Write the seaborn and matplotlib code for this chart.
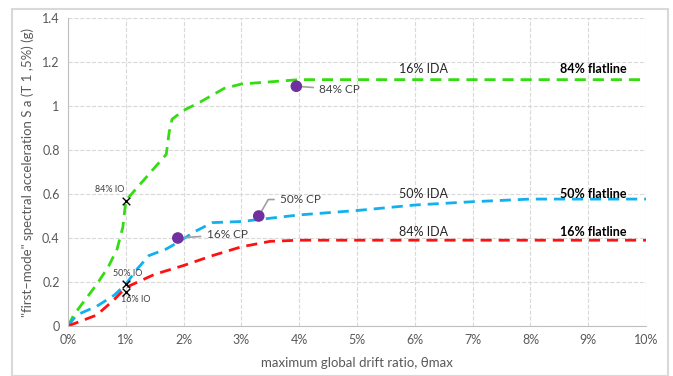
import pandas as pd
import seaborn as sns
import matplotlib.pyplot as plt
from matplotlib.ticker import FuncFormatter, MultipleLocator

# IDA curves (drift in %, Sa in g)
green_x = [0, 0.1, 0.3, 0.5, 0.7, 0.85, 0.95, 1.0, 1.2, 1.5, 1.7, 1.75, 1.8, 2.0, 2.3, 2.7, 3.0, 4.0, 10]
green_y = [0, 0.05, 0.12, 0.19, 0.27, 0.35, 0.45, 0.57, 0.63, 0.72, 0.78, 0.88, 0.94, 0.98, 1.02, 1.08, 1.10, 1.12, 1.12]
blue_x = [0, 0.15, 0.5, 0.8, 1.0, 1.2, 1.4, 1.7, 1.9, 2.2, 2.5, 3.0, 3.5, 4.0, 5.0, 6.0, 7.0, 8.0, 10]
blue_y = [0, 0.05, 0.09, 0.14, 0.19, 0.26, 0.32, 0.35, 0.38, 0.43, 0.47, 0.475, 0.49, 0.505, 0.525, 0.55, 0.565, 0.577, 0.577]
red_x = [0, 0.5, 0.8, 1.0, 1.5, 2.0, 2.5, 3.0, 3.5, 4.0, 10]
red_y = [0, 0.05, 0.12, 0.175, 0.235, 0.275, 0.32, 0.36, 0.385, 0.39, 0.39]

io_x = [1.0, 1.0, 1.0]
io_y = [0.57, 0.19, 0.155]
io_labels = ['84% IO', '50% IO', '16% IO']

cp_x = [1.9, 3.3, 3.95]
cp_y = [0.40, 0.50, 1.09]
cp_labels = ['16% CP', '50% CP', '84% CP']

sns.set_style("white")
plt.rcParams['font.family'] = ['Lato', 'DejaVu Sans']

fig = plt.figure(figsize=(6.73, 3.76), dpi=100)
ax = fig.add_axes([0.101, 0.133, 0.859, 0.819])

# outer frame
fig.patches.append(plt.Rectangle((0.018, 0.0), 0.975, 0.975, transform=fig.transFigure,
                                 fill=False, edgecolor='#d9d9d9', linewidth=1.5))

curves = [(green_x, green_y, '#33dd11'), (blue_x, blue_y, '#11b0ee'), (red_x, red_y, '#ff1111')]
for xs, ys, c in curves:
    d = pd.DataFrame({'x': xs, 'y': ys})
    sns.lineplot(data=d, x='x', y='y', ax=ax, color=c, linewidth=2, sort=False)
    ax.lines[-1].set_dashes((4, 2.5))

# IO markers
sns.scatterplot(x=io_x, y=io_y, ax=ax, marker='x', color='black', s=30, linewidth=1, zorder=5)
io_pos = [(0.72, 0.62), (1.03, 0.24), (1.18, 0.12)]
for lab, (tx, ty) in zip(io_labels, io_pos):
    ax.text(tx, ty, lab, fontsize=6.5, color='#404040', ha='center', va='center')

# CP markers
sns.scatterplot(x=cp_x, y=cp_y, ax=ax, color='#7030a0', s=70, edgecolor='none', zorder=5)
cp_pos = [(2.4, 0.415), (3.67, 0.575), (4.35, 1.075)]
cp_conn = ['arc3', 'angle,angleA=0,angleB=60,rad=0', 'arc3']
for (px, py), lab, (tx, ty), cs in zip(zip(cp_x, cp_y), cp_labels, cp_pos, cp_conn):
    ax.annotate(lab, xy=(px, py), xytext=(tx, ty), fontsize=8.5, color='#404040', va='center',
                arrowprops=dict(arrowstyle='-', color='#a0a0a0', lw=1.2, shrinkA=2, shrinkB=3,
                                connectionstyle=cs))

# curve labels
ax.text(6.15, 1.17, '16% IDA', fontsize=9, color='#262626', ha='center', va='center')
ax.text(6.15, 0.60, '50% IDA', fontsize=9, color='#262626', ha='center', va='center')
ax.text(6.15, 0.427, '84% IDA', fontsize=9, color='#262626', ha='center', va='center')
ax.text(9.08, 1.17, '84% flatline', fontsize=9, fontweight='bold', color='#000000', ha='center', va='center')
ax.text(9.08, 0.60, '50% flatline', fontsize=9, fontweight='bold', color='#000000', ha='center', va='center')
ax.text(9.08, 0.427, '16% flatline', fontsize=9, fontweight='bold', color='#000000', ha='center', va='center')

ax.set_xlim(0, 10)
ax.set_ylim(0, 1.4)
ax.xaxis.set_major_locator(MultipleLocator(1))
ax.yaxis.set_major_locator(MultipleLocator(0.2))
ax.xaxis.set_major_formatter(FuncFormatter(lambda v, p: f'{v:.0f}%'))
ax.yaxis.set_major_formatter(FuncFormatter(lambda v, p: f'{v:.1f}'.rstrip('0').rstrip('.') if v else '0'))
ax.tick_params(axis='both', labelsize=9, colors='#595959', length=0, pad=6)
ax.grid(True, color='#d9d9d9', linestyle='--', linewidth=0.8)
ax.set_axisbelow(True)
for s in ['top', 'right']:
    ax.spines[s].set_visible(False)
for s in ['left', 'bottom']:
    ax.spines[s].set_color('#bfbfbf')

ax.set_xlabel('maximum global drift ratio, θmax', fontsize=9.5, color='#595959', labelpad=8)
ax.set_ylabel('"first\u2013mode" spectral acceleration S a (T 1 ,5%) (g)', fontsize=9.5, color='#595959', labelpad=6)

fig.savefig('out.png', dpi=100)
